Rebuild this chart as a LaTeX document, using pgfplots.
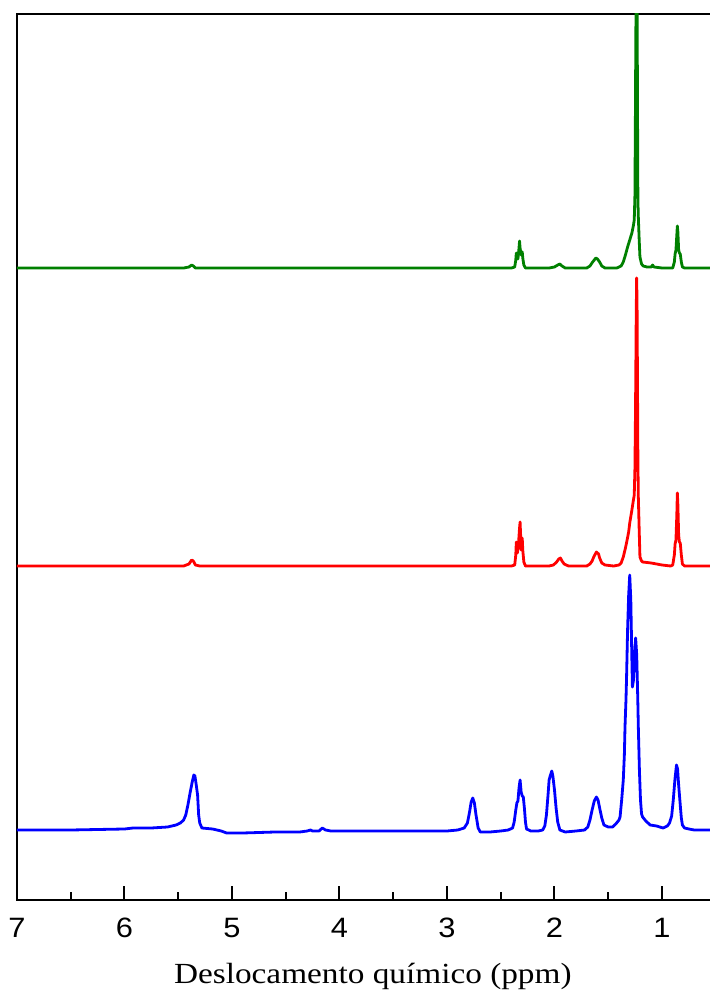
\documentclass[border=0pt]{standalone}
\usepackage{fontspec}
\setmainfont{Liberation Serif}
\newfontfamily\labfont[FakeStretch=1.14]{Liberation Serif}
\newfontfamily\tickfont[FakeStretch=1.1]{Liberation Sans}
\usepackage{pgfplots}
\pgfplotsset{compat=1.18}

\definecolor{specgreen}{RGB}{0,128,0}

\begin{document}
\begin{tikzpicture}
\begin{axis}[
    scale only axis,
    width=354.75pt, height=443pt,
    at={(0,0)}, anchor=south west,
    x dir=reverse,
    xmin=0.40, xmax=7, ymin=0, ymax=886,
    axis line style={line width=1pt},
    xtick={1,2,3,4,5,6,7},
    minor x tick num=1,
    ytick=\empty,
    xtick pos=left,
    tick align=inside,
    major tick length=7pt, minor tick length=4pt,
    every tick/.style={black, line width=1pt},
    /pgf/number format/assume math mode=true,
    xticklabel style={font=\tickfont\fontsize{14}{14}\selectfont, anchor=base, yshift=-18.5pt},
    xlabel={Deslocamento químico (ppm)},
    xlabel style={at={(axis cs:3.69,0)}, anchor=base, yshift=-41.5pt,
                  font=\labfont\fontsize{14.6}{14.6}\selectfont},
    every axis plot/.append style={line width=1.4pt, line join=round},
]

% blue spectrum
\addplot[blue] coordinates {
(7.00,70) (6.50,70) (6.00,71) (5.92,72) (5.75,72) (5.60,73) (5.52,75) (5.48,77)
(5.45,80) (5.43,85) (5.41,95) (5.39,107) (5.37,118) (5.355,125) (5.345,124)
(5.335,117) (5.32,105) (5.31,85) (5.30,77) (5.28,72) (5.18,71) (5.10,69) (5.05,67)
(4.90,67) (4.60,68) (4.37,68) (4.30,69) (4.27,70) (4.25,69) (4.19,69) (4.16,72)
(4.13,70) (4.08,69) (3.50,69) (3.00,69) (2.90,70) (2.84,72) (2.81,77) (2.79,88)
(2.775,98) (2.76,102) (2.745,97) (2.73,85) (2.71,72) (2.69,68) (2.60,68) (2.50,69)
(2.43,70) (2.39,72) (2.375,78) (2.36,90) (2.35,97) (2.34,99) (2.33,112) (2.32,120)
(2.31,108) (2.30,104) (2.29,103) (2.28,92) (2.27,78) (2.26,71) (2.22,69) (2.15,69)
(2.11,70) (2.09,74) (2.075,85) (2.06,105) (2.05,120) (2.04,124) (2.025,129)
(2.015,124) (2.00,110) (1.985,92) (1.97,78) (1.95,70) (1.90,68) (1.80,69) (1.72,70)
(1.69,73) (1.67,80) (1.65,90) (1.63,99) (1.61,103) (1.595,100) (1.58,92) (1.56,82)
(1.54,75) (1.50,73) (1.46,73) (1.43,76) (1.40,80) (1.39,83) (1.375,100) (1.36,120)
(1.35,145) (1.344,173) (1.335,200) (1.33,220) (1.32,270) (1.31,305) (1.30,325)
(1.29,300) (1.28,240) (1.275,213) (1.265,220) (1.255,245) (1.245,262) (1.235,245)
(1.225,200) (1.22,173) (1.21,130) (1.20,100) (1.19,86) (1.18,83) (1.15,79)
(1.11,75) (1.05,74) (0.99,72) (0.95,74) (0.93,77) (0.91,84) (0.895,100) (0.88,120)
(0.865,135) (0.855,131) (0.845,115) (0.83,95) (0.82,82) (0.81,75) (0.79,72)
(0.75,71) (0.70,70) (0.40,70)
};

% red spectrum
\addplot[red] coordinates {
(7.00,334) (6.00,334) (5.45,334) (5.40,336) (5.375,340) (5.36,339) (5.34,335)
(5.30,334) (4.50,334) (3.00,334) (2.40,334) (2.37,335) (2.36,345) (2.355,358)
(2.35,352) (2.345,347) (2.335,356) (2.325,372) (2.32,378) (2.315,365) (2.31,350)
(2.305,355) (2.30,362) (2.295,350) (2.285,338) (2.27,334) (2.05,334) (2.01,335)
(1.98,338) (1.96,341) (1.945,342) (1.93,339) (1.91,336) (1.87,334) (1.70,334)
(1.67,336) (1.65,339) (1.635,343) (1.625,345) (1.61,348) (1.60,347) (1.59,346)
(1.58,342) (1.56,337) (1.53,335) (1.45,334) (1.40,335) (1.38,337) (1.36,343)
(1.34,352) (1.33,357) (1.31,368) (1.30,377) (1.28,390) (1.27,397) (1.258,405)
(1.252,430) (1.248,470) (1.244,520) (1.24,580) (1.236,622) (1.232,600) (1.228,520)
(1.224,440) (1.22,403) (1.212,370) (1.205,343) (1.19,339) (1.18,338) (1.10,337)
(1.00,335) (0.92,334) (0.90,335) (0.885,345) (0.878,356) (0.87,360) (0.862,385)
(0.857,407) (0.852,395) (0.845,365) (0.838,358) (0.83,357) (0.82,345) (0.81,336)
(0.79,334) (0.40,334)
};

% green spectrum
\addplot[specgreen] coordinates {
(7.00,632) (6.00,632) (5.45,632) (5.40,633) (5.375,635) (5.36,634) (5.34,632)
(4.50,632) (3.00,632) (2.40,632) (2.37,633) (2.36,640) (2.355,647) (2.35,644)
(2.34,641) (2.33,652) (2.325,659) (2.32,652) (2.31,645) (2.30,648) (2.295,642)
(2.285,635) (2.27,632) (2.05,632) (2.00,633) (1.97,635) (1.95,636) (1.93,634)
(1.90,632) (1.70,632) (1.67,634) (1.645,638) (1.63,640) (1.615,642) (1.60,641)
(1.58,638) (1.56,634) (1.53,632) (1.42,632) (1.38,634) (1.36,638) (1.34,645)
(1.32,653) (1.30,660) (1.28,667) (1.265,675) (1.258,680) (1.252,703) (1.248,770)
(1.244,850) (1.24,920) (1.236,960) (1.232,920) (1.228,800) (1.224,700) (1.22,683)
(1.212,660) (1.205,643) (1.19,636) (1.175,634) (1.14,633) (1.10,633) (1.087,635)
(1.075,633) (1.00,632) (0.90,632) (0.885,638) (0.878,646) (0.87,650) (0.862,665)
(0.857,674) (0.852,668) (0.845,650) (0.838,647) (0.83,646) (0.82,638) (0.81,633)
(0.79,632) (0.40,632)
};
\end{axis}
\pgfresetboundingbox
\path (-8.5pt,-48.5pt) rectangle (346.5pt,450pt);
\end{tikzpicture}
\end{document}
